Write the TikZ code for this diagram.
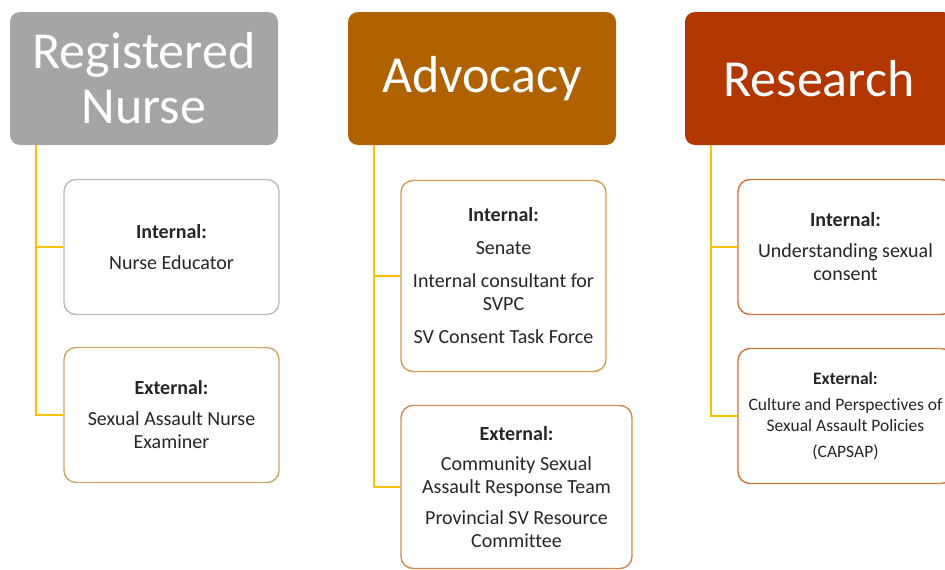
\documentclass[tikz,border=0pt]{standalone}
\usepackage{fontspec}
\setmainfont[Ligatures=NoCommon]{Carlito}
\usepackage{tikz}

\definecolor{nursegray}{HTML}{A5A5A5}
\definecolor{advocacyc}{RGB}{176,98,0}
\definecolor{researchc}{RGB}{178,54,0}
\definecolor{linkc}{HTML}{FFC000}
\definecolor{txtc}{HTML}{262626}

\begin{document}
\begin{tikzpicture}[x=1pt,y=-1pt,
  head/.style={shape=rectangle,rounded corners=10pt,minimum width=268pt,minimum height=133pt,inner sep=0pt,text=white,align=center,font=\fontsize{52}{55}\selectfont},
  item/.style={shape=rectangle,rounded corners=12pt,draw,line width=1.4pt,fill=white,minimum width=215pt,minimum height=135pt,inner sep=0pt,align=center,text=txtc,font=\fontsize{20}{23}\selectfont},
  link/.style={draw=linkc,line width=1.8pt}]
\useasboundingbox (0,0) rectangle (945,570);
\clip (0,0) rectangle (945,570);

% headers
\node[head,fill=nursegray] (RN) at (144,78.5) {Registered\\Nurse};
\node[head,fill=advocacyc] (ADV) at (482,78.5) {Advocacy};
\node[head,fill=researchc] (RES) at (819,78.5) {Research};

% links
\coordinate (RNt) at ([xshift=26pt]RN.south west);
\coordinate (ADVt) at ([xshift=26pt]ADV.south west);
\coordinate (RESt) at ([xshift=26pt]RES.south west);

% registered nurse
\node[item,draw=nursegray!75] (RNint) at (171.5,247) {\textbf{Internal:}\\[8pt]Nurse Educator};
\node[item,draw={rgb,255:red,200;green,168;blue,106}] (RNext) at (171.5,415) {\textbf{External:}\\[8pt]Sexual Assault Nurse\\Examiner};

% advocacy
\node[item,draw={rgb,255:red,210;green,158;blue,84},minimum width=205pt,minimum height=191pt] (ADVint) at (503.5,276) {\textbf{Internal:}\\[10pt]Senate\\[10pt]Internal consultant for\\SVPC\\[10pt]SV Consent Task Force};
\node[item,draw={rgb,255:red,204;green,140;blue,82},minimum width=231pt,minimum height=163pt] (ADVext) at (516.5,487) {\textbf{External:}\\[7pt]Community Sexual\\Assault Response Team\\[8pt]Provincial SV Resource\\Committee};

% research
\node[item,draw={rgb,255:red,208;green,115;blue,62}] (RESint) at (845.5,247) {\textbf{Internal:}\\[8pt]Understanding sexual\\consent};
\node[item,draw={rgb,255:red,208;green,115;blue,62},font=\fontsize{17.5}{20.5}\selectfont] (RESext) at (845.5,416) {\textbf{External:}\\[6pt]Culture and Perspectives of\\Sexual Assault Policies\\[6pt](CAPSAP)};

\path[link] (RNt) |- (RNint.west);
\path[link] (RNt) |- (RNext.west);
\path[link] (ADVt) |- (ADVint.west);
\path[link] (ADVt) |- (ADVext.west);
\path[link] (RESt) |- (RESint.west);
\path[link] (RESt) |- (RESext.west);
\end{tikzpicture}
\end{document}
